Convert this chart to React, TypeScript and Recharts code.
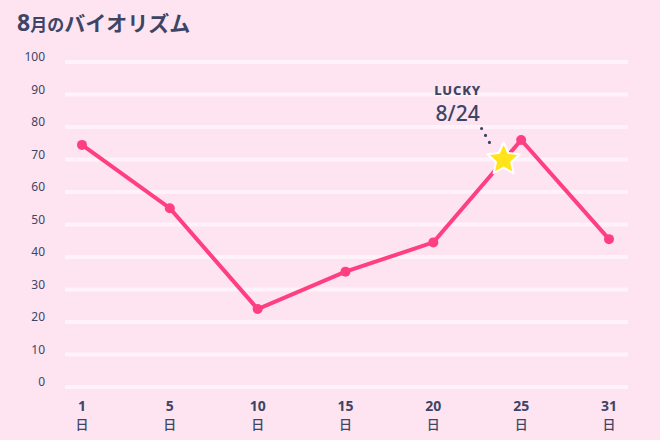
import React from 'react';
import {
  LineChart,
  Line,
  XAxis,
  YAxis,
  CartesianGrid,
  ReferenceDot,
} from 'recharts';

const days = [1, 5, 10, 15, 20, 25, 31];
const biorhythm = [74.5, 55, 24, 35.5, 44.5, 76, 45.5];
const yTicks = [0, 10, 20, 30, 40, 50, 60, 70, 80, 90, 100];
const luckyDay = 24;
const luckyValue = 70;

const INK = '#3d4566';
const PINK = '#ff3f80';
const FONT = "'Noto Sans', 'Noto Sans CJK JP', sans-serif";

// x is the index of the day on an evenly spaced axis
const data = days.map((d, i) => ({ idx: i, day: d, value: biorhythm[i] }));

// place the lucky day between its neighbouring ticks
const luckyIdx = (() => {
  const i = days.findIndex((d) => d >= luckyDay);
  if (days[i] === luckyDay) return i;
  return i - 1 + (luckyDay - days[i - 1]) / (days[i] - days[i - 1]);
})();

const DayTick = ({ x, y, payload }: any) => {
  const day = days[payload.value];
  return (
    <g>
      <text x={x} y={y + 22} textAnchor="middle" fill={INK} fontSize={14} fontWeight={700} fontFamily={FONT}>
        {day}
      </text>
      <text x={x} y={y + 40} textAnchor="middle" fill={INK} fontSize={13} fontWeight={500} fontFamily="'Noto Sans CJK JP', sans-serif">
        日
      </text>
    </g>
  );
};

const ValueTick = ({ x, y, payload }: any) => (
  <text x={x} y={y} dy={-1} textAnchor="end" fill={INK} fontSize={12} fontFamily={FONT}>
    {payload.value}
  </text>
);

const starPoints = (cx: number, cy: number, outer: number, inner: number) => {
  const pts: string[] = [];
  for (let k = 0; k < 10; k++) {
    const r = k % 2 === 0 ? outer : inner;
    const a = -Math.PI / 2 + (k * Math.PI) / 5;
    pts.push(`${cx + r * Math.cos(a)},${cy + r * Math.sin(a)}`);
  }
  return pts.join(' ');
};

const LuckyStar = ({ cx, cy }: any) => (
  <g>
    <line
      x1={cx - 22}
      y1={cy - 31}
      x2={cx - 13}
      y2={cy - 15}
      stroke={INK}
      strokeWidth={3.2}
      strokeLinecap="round"
      strokeDasharray="0 8"
    />
    <text x={cx - 46} y={cy - 65} textAnchor="middle" fill={INK} fontSize={13} fontWeight={800} fontFamily={FONT} letterSpacing={0.8}>
      LUCKY
    </text>
    <text x={cx - 46} y={cy - 39} textAnchor="middle" fill={INK} fontSize={21} fontWeight={500} fontFamily={FONT}>
      {`8/${luckyDay}`}
    </text>
    <polygon
      points={starPoints(cx, cy, 17, 8)}
      fill="#ffe41c"
      stroke="#ffffff"
      strokeWidth={2}
      strokeLinejoin="round"
    />
  </g>
);

export default function App() {
  return (
    <div
      style={{
        position: 'absolute',
        left: 0,
        top: 0,
        width: 660,
        height: 440,
        background: '#fee4f1',
        fontFamily: FONT,
      }}
    >
      <div
        style={{
          position: 'absolute',
          left: 17,
          top: 4,
          color: INK,
          fontWeight: 700,
          fontFamily: "'Noto Sans CJK JP', sans-serif",
          whiteSpace: 'nowrap',
          lineHeight: '36px',
        }}
      >
        <span style={{ fontSize: 23, fontFamily: FONT }}>8</span>
        <span style={{ fontSize: 17 }}>月の</span>
        <span style={{ fontSize: 21 }}>バイオリズム</span>
      </div>
      <LineChart
        width={660}
        height={440}
        data={data}
        margin={{ top: 62, right: 32, bottom: 0, left: 8 }}
      >
        <CartesianGrid vertical={false} stroke="#ffffff" strokeOpacity={0.55} strokeWidth={4} />
        <XAxis
          dataKey="idx"
          type="number"
          domain={[0, days.length - 1]}
          ticks={days.map((_, i) => i)}
          padding={{ left: 17, right: 19 }}
          axisLine={false}
          tickLine={false}
          tickSize={0}
          height={53}
          tick={<DayTick />}
          interval={0}
        />
        <YAxis
          domain={[0, 100]}
          ticks={yTicks}
          width={57}
          axisLine={false}
          tickLine={false}
          tickSize={0}
          tickMargin={20}
          tick={<ValueTick />}
          interval={0}
        />
        <Line
          type="linear"
          dataKey="value"
          stroke={PINK}
          strokeWidth={4}
          dot={{ r: 5, fill: PINK, stroke: PINK, strokeWidth: 0 }}
          activeDot={false}
          isAnimationActive={false}
        />
        <ReferenceDot x={luckyIdx} y={luckyValue} r={17} shape={<LuckyStar />} ifOverflow="visible" />
      </LineChart>
    </div>
  );
}
